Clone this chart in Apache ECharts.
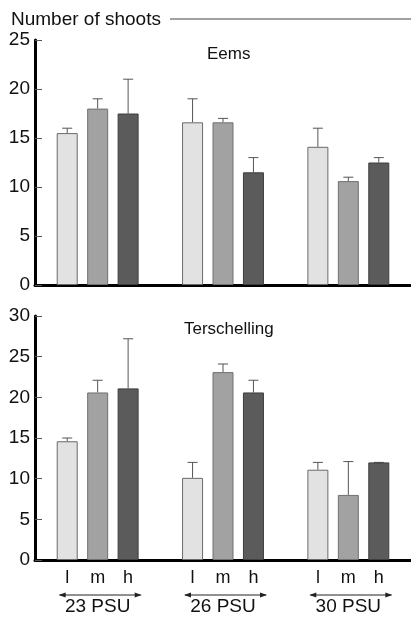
<!DOCTYPE html>
<html><head><meta charset="utf-8">
<script src="https://cdn.jsdelivr.net/npm/echarts@6/dist/echarts.min.js"></script>
<style>html,body{margin:0;padding:0;background:#fff}#c{width:411px;height:619px}</style>
</head><body><div id="c"></div>
<script>
const groups = ['23 PSU', '26 PSU', '30 PSU'];
const levels = ['l', 'm', 'h'];
const colors = ['#e2e2e2', '#a2a2a2', '#5b5b5b'];
const borders = ['#6a6a6a', '#707070', '#3e3e3e'];
// Eems (top panel): mean and upper error value per level, per salinity group
const eemsL = [15.5, 16.6, 14.1];
const eemsM = [18.0, 16.6, 10.6];
const eemsH = [17.5, 11.5, 12.5];
const eemsLErr = [16.0, 19.0, 16.0];
const eemsMErr = [19.0, 17.0, 11.0];
const eemsHErr = [21.0, 13.0, 13.0];
// Terschelling (bottom panel)
const tersL = [14.6, 10.1, 11.1];
const tersM = [20.6, 23.1, 8.0];
const tersH = [21.1, 20.6, 12.0];
const tersLErr = [15.0, 12.0, 12.0];
const tersMErr = [22.1, 24.1, 12.1];
const tersHErr = [27.2, 22.1, 12.0];
const yTicksTop = [0, 25, 5];
const yTicksBottom = [0, 30, 5];

const BW = 21, GAP = 0.45;
const font = 'Liberation Sans, Arial, sans-serif';

function errSeries(gridIdx, levelIdx, means, errs) {
  const data = means.map((m, i) => [i, m, errs[i]]);
  return {
    type: 'custom', xAxisIndex: gridIdx, yAxisIndex: gridIdx, z: 1,
    data: data,
    renderItem: function (params, api) {
      const c = api.coord([api.value(0), api.value(1)]);
      const t = api.coord([api.value(0), api.value(2)]);
      const x = c[0] + (levelIdx - 1) * BW * (1 + GAP);
      const style = { stroke: '#555', lineWidth: 1 };
      return { type: 'group', children: [
        { type: 'line', shape: { x1: x, y1: c[1], x2: x, y2: t[1] }, style: style },
        { type: 'line', shape: { x1: x - 5, y1: t[1], x2: x + 5, y2: t[1] }, style: style }
      ]};
    }
  };
}
function barSeries(gridIdx, levelIdx, vals, showLabel) {
  return {
    type: 'bar', name: levels[levelIdx], xAxisIndex: gridIdx, yAxisIndex: gridIdx,
    data: vals, barWidth: BW, barGap: (GAP * 100) + '%', z: 2,
    itemStyle: { color: colors[levelIdx], borderColor: borders[levelIdx], borderWidth: 1 },
    label: showLabel ? { show: true, position: 'bottom', distance: 9,
      formatter: levels[levelIdx], fontSize: 18, color: '#111', fontFamily: font } : { show: false }
  };
}
const arrowSeries = {
  type: 'custom', xAxisIndex: 1, yAxisIndex: 1, z: 3, clip: false,
  data: groups.map((g, i) => [i, 0]),
  renderItem: function (params, api) {
    const c = api.coord([api.value(0), 0]);
    const y = c[1] + 35, x1 = c[0] - 38, x2 = c[0] + 43;
    const s = { stroke: '#222', lineWidth: 1 };
    return { type: 'group', children: [
      { type: 'line', shape: { x1: x1, y1: y, x2: x2, y2: y }, style: s },
      { type: 'polygon', shape: { points: [[x1 - 1, y], [x1 + 6, y - 2.5], [x1 + 6, y + 2.5]] }, style: { fill: '#222' } },
      { type: 'polygon', shape: { points: [[x2 + 1, y], [x2 - 6, y - 2.5], [x2 - 6, y + 2.5]] }, style: { fill: '#222' } }
    ]};
  }
};

function yAxis(gridIdx, t) {
  return {
    type: 'value', gridIndex: gridIdx, min: t[0], max: t[1], interval: t[2],
    axisLine: { show: true, lineStyle: { color: '#000', width: 3 } },
    axisTick: { show: true, inside: true, length: 7, lineStyle: { color: '#555', width: 1 } },
    axisLabel: { fontSize: 19, color: '#111', fontFamily: font, margin: 5 },
    splitLine: { show: false }
  };
}

const chart = echarts.init(document.getElementById('c'), null, { renderer: 'canvas' });
chart.setOption({
  animation: false,
  backgroundColor: '#fff',
  title: [
    { text: 'Number of shoots', left: 6, top: 5, textStyle: { fontSize: 19, fontWeight: 'normal', color: '#111', fontFamily: font } },
    { text: 'Eems', left: 202, top: 41, textStyle: { fontSize: 17, fontWeight: 'normal', color: '#111', fontFamily: font } },
    { text: 'Terschelling', left: 179, top: 316, textStyle: { fontSize: 17, fontWeight: 'normal', color: '#111', fontFamily: font } }
  ],
  graphic: [
    { type: 'line', shape: { x1: 170, y1: 19, x2: 411, y2: 19 }, style: { stroke: '#444', lineWidth: 1 } }
  ],
  grid: [
    { left: 35, right: 0, top: 40, height: 245 },
    { left: 35, right: 0, top: 316, height: 244 }
  ],
  xAxis: [
    { type: 'category', gridIndex: 0, data: groups,
      axisLine: { lineStyle: { color: '#000', width: 3 } }, axisTick: { show: false }, axisLabel: { show: false } },
    { type: 'category', gridIndex: 1, data: groups,
      axisLine: { lineStyle: { color: '#000', width: 3 } }, axisTick: { show: false },
      axisLabel: { show: true, margin: 37, fontSize: 19, color: '#111', fontFamily: font } }
  ],
  yAxis: [yAxis(0, yTicksTop), yAxis(1, yTicksBottom)],
  series: [
    barSeries(0, 0, eemsL, false), barSeries(0, 1, eemsM, false), barSeries(0, 2, eemsH, false),
    errSeries(0, 0, eemsL, eemsLErr), errSeries(0, 1, eemsM, eemsMErr), errSeries(0, 2, eemsH, eemsHErr),
    barSeries(1, 0, tersL, true), barSeries(1, 1, tersM, true), barSeries(1, 2, tersH, true),
    errSeries(1, 0, tersL, tersLErr), errSeries(1, 1, tersM, tersMErr), errSeries(1, 2, tersH, tersHErr),
    arrowSeries
  ]
});
</script></body></html>
